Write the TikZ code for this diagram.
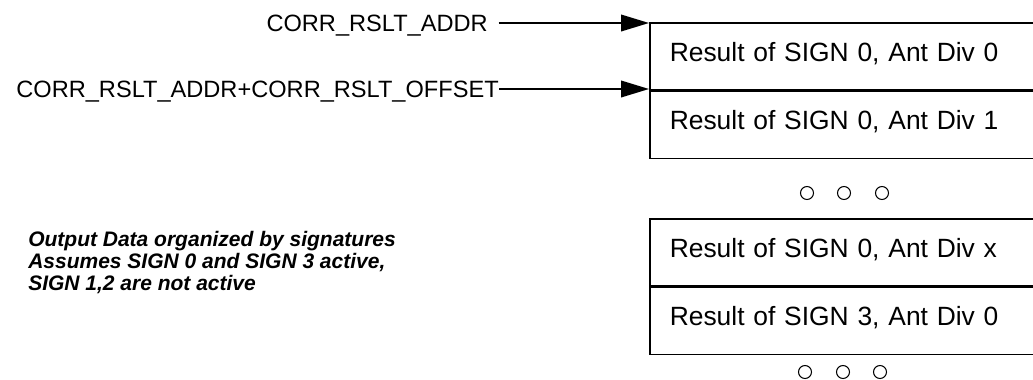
\documentclass[tikz,border=0pt]{standalone}
\usepackage{fontspec}
\setmainfont{Liberation Sans}
\usetikzlibrary{arrows.meta,positioning}

\begin{document}
\begin{tikzpicture}[x=0.75pt,y=-0.75pt,
  cell/.style={draw,line width=1.2pt,minimum width=297pt,minimum height=50.25pt,
               text width=267pt,align=left,inner xsep=15pt,
               text height=13.5pt,text depth=6pt,
               font=\fontsize{19.8}{23}\selectfont},
  addr/.style={inner sep=0pt,text height=13pt,text depth=0pt,
               font=\fontsize{17.7}{21}\selectfont},
  ptr/.style={-{Triangle[length=21pt,width=12.5pt]},line width=1.2pt},
  gap/.style={circle,draw,line width=0.8pt,minimum size=9.75pt,inner sep=0pt}
]
  \useasboundingbox (0,0) rectangle (1033,379);
  \clip (0,0) rectangle (1033,379);

  % result buffer (open on the right)
  \node[cell,anchor=north west] (res0) at (649,22) {Result of SIGN 0, Ant Div 0};
  \node[cell,below=0pt of res0] (res1) {Result of SIGN 0, Ant Div 1};
  \node[cell,anchor=north west] (resx) at (649,218) {Result of SIGN 0, Ant Div x};
  \node[cell,below=0pt of resx] (res3) {Result of SIGN 3, Ant Div 0};

  % address pointers
  \node[addr,anchor=east] (base) at (488,23) {CORR\_RSLT\_ADDR};
  \node[addr,anchor=east] (offs) at (499,89) {CORR\_RSLT\_ADDR+CORR\_RSLT\_OFFSET};
  \draw[ptr,shorten <=8pt] (base.east) -- (base.east -| res0.west);
  \draw[ptr] (offs.east) -- (offs.east -| res1.west);

  % continuation marks
  \foreach \x [count=\i] in {807,844,882}
    \node[gap] (gapa\i) at (\x,193) {};
  \foreach \x [count=\i] in {805,843,880}
    \node[gap] (gapb\i) at (\x,372) {};

  \node[anchor=north west,inner sep=0pt,align=left,
        font=\fontsize{15.75}{16.5}\selectfont\bfseries\itshape] (note) at (28,231)
    {Output Data organized by signatures\\
     Assumes SIGN 0 and SIGN 3 active,\\
     SIGN 1,2 are not active};
\end{tikzpicture}
\end{document}
